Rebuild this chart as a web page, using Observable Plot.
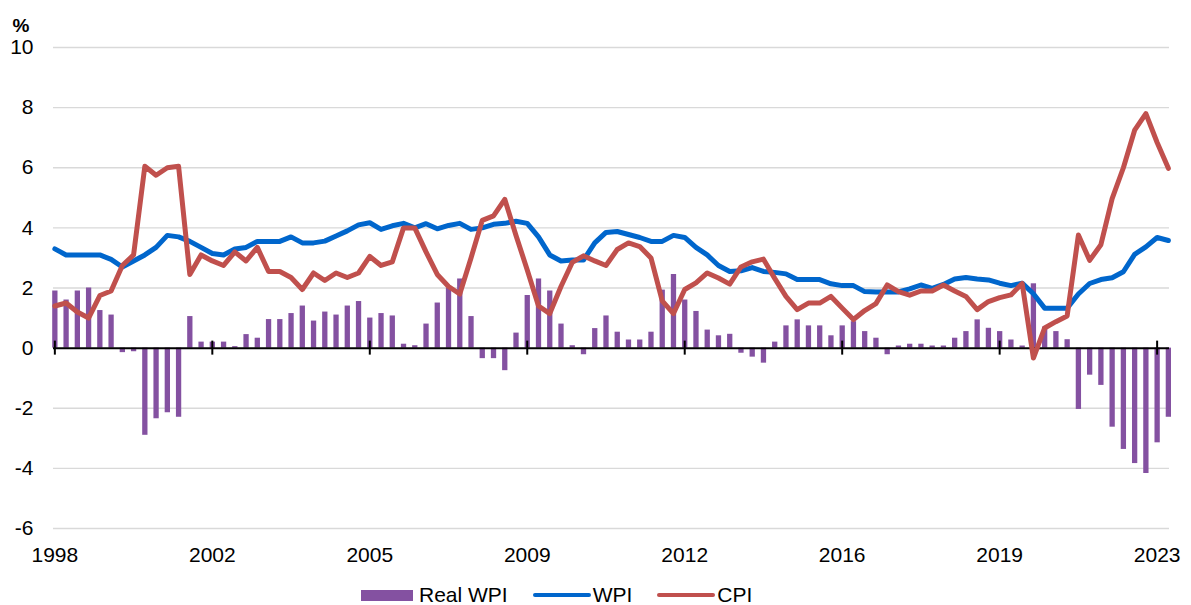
<!DOCTYPE html>
<html>
<head>
<meta charset="utf-8">
<script src="https://cdn.jsdelivr.net/npm/d3@7"></script>
<script src="https://cdn.jsdelivr.net/npm/@observablehq/plot@0.6"></script>
<style>
  body { margin: 0; background: #fff; font-family: "Liberation Sans", Arial, sans-serif; }
  #wrap { position: relative; width: 1191px; height: 605px; overflow: hidden; }
  #legend { position: absolute; left: 361px; top: 580px; height: 30px; display: flex; align-items: center; font-size: 21px; color: #000; white-space: nowrap; }
  .sw-bar { width: 52px; height: 11px; margin-right: 6px; }
  .sw-line { width: 58px; height: 4px; border-radius: 2px; margin-right: 2px; }
  .gap { width: 25px; }
</style>
</head>
<body>
<div id="wrap">
  <div id="chart"></div>
  <div id="legend"></div>
</div>
<script>
// Quarterly, Sep 1998 .. Jun 2023 (100 quarters), year-ended % change
const seriesNames = ["Real WPI", "WPI", "CPI"];
const seriesColors = ["#8451a1", "#0066cc", "#c0504d"];

const wpi = [
  3.3, 3.1, 3.1, 3.1, 3.1, 2.95, 2.7, 2.9, 3.1, 3.35,
  3.75, 3.7, 3.55, 3.35, 3.15, 3.1, 3.3, 3.35, 3.55, 3.55,
  3.55, 3.7, 3.5, 3.5, 3.56, 3.73, 3.9, 4.1, 4.17, 3.95,
  4.07, 4.15, 4.0, 4.14, 3.97, 4.08, 4.15, 3.95, 4.0, 4.12,
  4.15, 4.22, 4.15, 3.7, 3.1, 2.9, 2.93, 2.93, 3.5, 3.85,
  3.88, 3.78, 3.68, 3.55, 3.55, 3.75, 3.68, 3.35, 3.1, 2.75,
  2.55, 2.57, 2.68, 2.55, 2.52, 2.47, 2.28, 2.28, 2.28, 2.14,
  2.08, 2.08, 1.88, 1.87, 1.87, 1.87, 1.97, 2.1, 1.99, 2.12,
  2.3, 2.35, 2.3, 2.27, 2.16, 2.08, 2.16, 1.81, 1.33, 1.33,
  1.33, 1.8, 2.15, 2.28, 2.34, 2.54, 3.12, 3.37, 3.68, 3.58
];

const cpi = [
  1.4, 1.5, 1.2, 1.0, 1.75, 1.9, 2.75, 3.1, 6.05, 5.75,
  6.0, 6.05, 2.45, 3.1, 2.9, 2.75, 3.2, 2.9, 3.35, 2.55,
  2.55, 2.35, 1.95, 2.5, 2.25, 2.5, 2.35, 2.5, 3.05, 2.75,
  2.87, 4.0, 4.0, 3.2, 2.45, 2.05, 1.8, 3.0, 4.25, 4.4,
  4.95, 3.75, 2.6, 1.4, 1.15, 2.05, 2.85, 3.07, 2.9, 2.75,
  3.28, 3.5, 3.38, 3.0, 1.57, 1.15, 1.95, 2.17, 2.5, 2.33,
  2.13, 2.7, 2.87, 2.96, 2.32, 1.72, 1.28, 1.5, 1.5, 1.72,
  1.33, 0.95, 1.25, 1.48, 2.1, 1.88, 1.76, 1.9, 1.9, 2.1,
  1.9, 1.72, 1.28, 1.55, 1.68, 1.77, 2.15, -0.33, 0.67, 0.88,
  1.07, 3.76, 2.92, 3.44, 4.97, 6.0, 7.25, 7.8, 6.84, 5.98
];

const realWpi = [
  1.9, 1.6, 1.9, 2.0, 1.25, 1.1, -0.15, -0.12, -2.9, -2.35,
  -2.15, -2.3, 1.05, 0.2, 0.2, 0.2, 0.05, 0.45, 0.33, 0.95,
  0.95, 1.15, 1.4, 0.9, 1.2, 1.1, 1.4, 1.55, 1.0, 1.15,
  1.07, 0.13, 0.08, 0.8, 1.5, 2.0, 2.3, 1.05, -0.35, -0.35,
  -0.75, 0.5, 1.75, 2.3, 1.9, 0.8, 0.08, -0.22, 0.65, 1.07,
  0.53, 0.27, 0.27, 0.53, 1.93, 2.45, 1.6, 1.22, 0.6, 0.41,
  0.46, -0.17, -0.3, -0.5, 0.2, 0.74, 0.94, 0.74, 0.74, 0.41,
  0.74, 0.88, 0.55, 0.33, -0.22, 0.07, 0.13, 0.13, 0.07, 0.07,
  0.33, 0.55, 0.94, 0.66, 0.55, 0.27, 0.07, 2.14, 0.7, 0.55,
  0.28, -2.04, -0.9, -1.24, -2.63, -3.37, -3.84, -4.17, -3.15, -2.3
];

const xTickIndex = [0, 14, 28, 42, 56, 70, 84, 98];
const xTickLabels = ["1998", "2002", "2005", "2009", "2012", "2016", "2019", "2023"];
const yTicks = [-6, -4, -2, 0, 2, 4, 6, 8, 10];

const data = wpi.map((v, i) => ({ i, wpi: v, cpi: cpi[i], real: realWpi[i] }));

const chart = Plot.plot({
  width: 1191,
  height: 572,
  marginLeft: 53,
  marginRight: 22,
  marginTop: 47,
  marginBottom: 44,
  style: { fontFamily: '"Liberation Sans", Arial, sans-serif', fontSize: "21px", color: "#000", background: "#fff", overflow: "visible" },
  x: { domain: [-0.12, 99.1] },
  y: { domain: [-6, 10] },
  marks: [
    Plot.gridY(yTicks.filter(d => d !== 0), { stroke: "#d9d9d9", strokeOpacity: 1, strokeWidth: 1.3 }),
    Plot.axisY(yTicks, { tickSize: 0, tickPadding: 20, label: null, fontSize: 21, tickFormat: d => String(d) }),
    Plot.axisX(xTickIndex, { tickSize: 0, tickPadding: 19, label: null, fontSize: 21,
      tickFormat: d => xTickLabels[xTickIndex.indexOf(d)] }),
    Plot.ruleX(data, { x: "i", y1: 0, y2: "real", stroke: seriesColors[0], strokeWidth: 5.3 }),
    Plot.ruleY([0], { stroke: "#000", strokeWidth: 2 }),
    Plot.ruleX(xTickIndex, { y1: 0, y2: 0, insetTop: -7, insetBottom: -7, stroke: "#000", strokeWidth: 2 }),
    Plot.line(data, { x: "i", y: "wpi", stroke: seriesColors[1], strokeWidth: 5, strokeLinejoin: "round", strokeLinecap: "round" }),
    Plot.line(data, { x: "i", y: "cpi", stroke: seriesColors[2], strokeWidth: 5, strokeLinejoin: "round", strokeLinecap: "round" }),
    Plot.text(["%"], { frameAnchor: "top-left", dx: -41, dy: -29, textAnchor: "start", fontWeight: "bold", fontSize: 19 })
  ]
});
document.getElementById("chart").appendChild(chart);

// Legend
const legend = document.getElementById("legend");
seriesNames.forEach((name, k) => {
  if (k > 0) { const g = document.createElement("span"); g.className = "gap"; legend.appendChild(g); }
  const sw = document.createElement("span");
  sw.className = k === 0 ? "sw-bar" : "sw-line";
  sw.style.background = seriesColors[k];
  legend.appendChild(sw);
  const t = document.createElement("span");
  t.textContent = name;
  legend.appendChild(t);
});
</script>
</body>
</html>
